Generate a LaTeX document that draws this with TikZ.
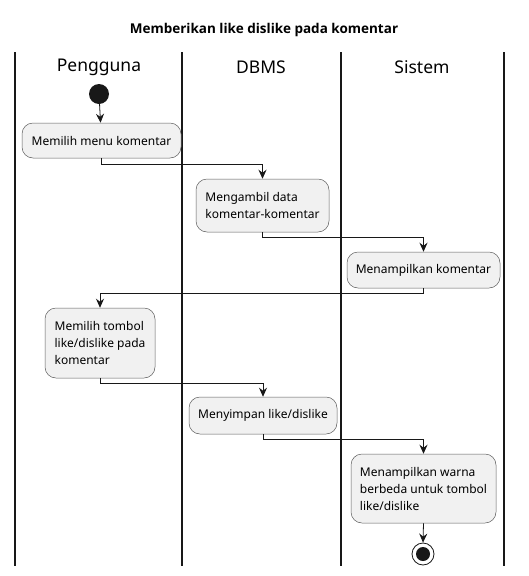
\documentclass[tikz,border=0pt]{standalone}
\usepackage{fontspec}
\setmainfont{Noto Sans}
\newfontfamily\judulfont{Open Sans}
\usetikzlibrary{arrows.meta,positioning}
\definecolor{actfill}{HTML}{F1F1F1}
\definecolor{actline}{HTML}{181818}
\begin{document}
\begin{tikzpicture}[x=1pt,y=-1pt,>={Stealth[length=9pt,width=8pt,inset=3pt]},
  act/.style={draw=actline!70,fill=actfill,rounded corners=11pt,line width=0.5pt,
    font=\fontsize{12}{17}\selectfont,align=left,inner sep=0pt},
  flow/.style={->,draw=actline,line width=0.8pt},
  lane/.style={draw=actline,line width=1.3pt},
  head/.style={font=\fontsize{17.5}{20}\selectfont}]
\path[use as bounding box] (0,0) rectangle (528,576);
% judul
\node[font=\judulfont\fontsize{13.5}{16}\selectfont\bfseries] (judul) at (264,30) {Memberikan like dislike pada komentar};
% swimlane
\foreach \x in {15,182,341,504}
  \draw[lane] (\x,52) -- (\x,566);
\node[head] (pengguna) at (99,67) {Pengguna};
\node[head] (dbms) at (261,67) {DBMS};
\node[head] (sistem) at (422,67) {Sistem};
% aktivitas
\node[circle,fill=actline,inner sep=0pt,minimum size=20pt] (mulai) at (99,94) {};
\node[act,minimum width=159pt,minimum height=35pt] (menu) at (101.5,140.5) {Memilih menu komentar};
\node[act,minimum width=133pt,minimum height=53pt] (ambil) at (262.5,205.5) {Mengambil data\\komentar-komentar};
\node[act,minimum width=153pt,minimum height=36pt] (tampil) at (423.5,270) {Menampilkan komentar};
\node[act,minimum width=110pt,minimum height=70pt] (tombol) at (100,343) {Memilih tombol\\like/dislike pada\\komentar};
\node[act,minimum width=148pt,minimum height=37pt] (simpan) at (263,415.5) {Menyimpan like/dislike};
\node[act,minimum width=145pt,minimum height=69pt] (warna) at (423.5,488.5) {Menampilkan warna\\berbeda untuk tombol\\like/dislike};
\node[circle,draw=actline,line width=0.8pt,fill=white,minimum size=22pt,inner sep=0pt] (selesai) at (423,554) {};
\node[circle,fill=actline,minimum size=14pt,inner sep=0pt] (selesaiin) at (selesai) {};
% alur
\draw[flow] (mulai) -- (menu);
\draw[flow] (menu.south) -- ++(0,6) -| (ambil.north);
\draw[flow] (ambil.south) -- ++(0,5) -| (tampil.north);
\draw[flow] (tampil.south) -- ++(0,5) -| (tombol.north);
\draw[flow] (tombol.south) -- ++(0,5) -| (simpan.north);
\draw[flow] (simpan.south) -- ++(0,5) -| (warna.north);
\draw[flow] (warna.south) -- (selesai.north);
\end{tikzpicture}
\end{document}
